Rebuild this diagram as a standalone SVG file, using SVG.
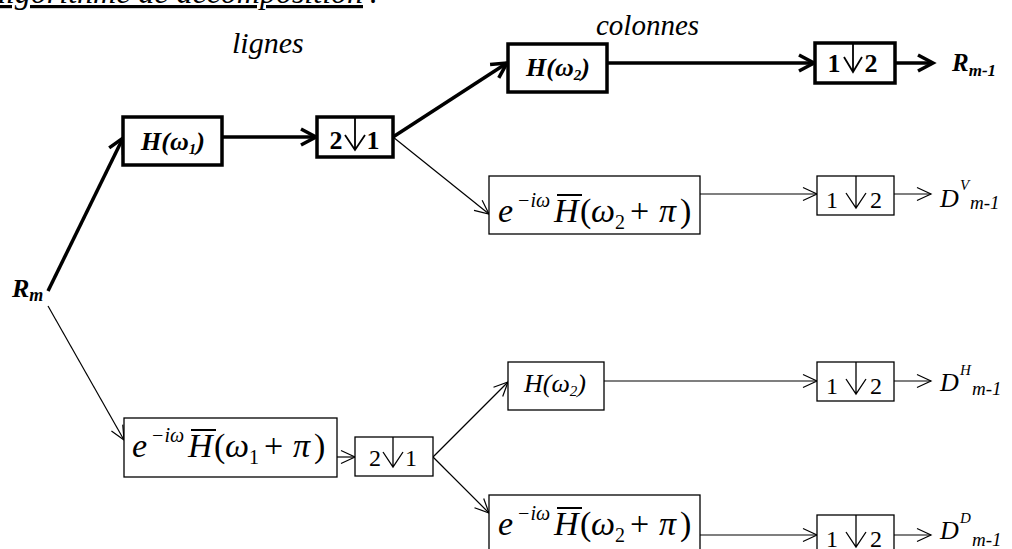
<svg xmlns="http://www.w3.org/2000/svg" width="1012" height="549" viewBox="0 0 1012 549">
<style>
text{font-family:"Liberation Serif","Times New Roman",serif;fill:#000}
.i{font-style:italic}
.bi{font-style:italic;font-weight:bold}
.b{font-weight:bold}
.bx{fill:#fff;stroke:#000;stroke-width:3.5}
.tx{fill:#fff;stroke:#000;stroke-width:1.3}
.cb{fill:none;stroke:#000;stroke-width:3.5;marker-end:url(#ab)}
.ct{fill:none;stroke:#000;stroke-width:1.2;marker-end:url(#at)}
.dn{fill:none;stroke:#000;stroke-width:1.3}
.dnb{fill:none;stroke:#000;stroke-width:1.8}
.ov{stroke:#000;stroke-width:2}
</style>
<defs>
<marker id="ab" markerUnits="userSpaceOnUse" markerWidth="26" markerHeight="26" viewBox="-20 -13 26 26" refX="0" refY="0" orient="auto">
<path d="M-15,-8 L0,0 L-15,8" fill="none" stroke="#000" stroke-width="3.5"/>
</marker>
<marker id="at" markerUnits="userSpaceOnUse" markerWidth="22" markerHeight="22" viewBox="-18 -11 22 22" refX="0" refY="0" orient="auto">
<path d="M-14,-6.5 L0,0 L-14,6.5" fill="none" stroke="#000" stroke-width="1.2"/>
</marker>
</defs>
<rect width="1012" height="549" fill="#fff"/>

<g id="title">
<text class="i" font-size="32" x="-10" y="3" textLength="373" lengthAdjust="spacingAndGlyphs" text-decoration="underline">algorithme de décomposition</text>
<text class="i" font-size="32" x="369" y="3">:</text>
</g>
<g id="label-lignes"><text class="i" font-size="30" x="232" y="53">lignes</text></g>
<g id="label-colonnes"><text class="i" font-size="29" x="596" y="35">colonnes</text></g>

<g id="connectors">
<line class="cb" x1="48" y1="291" x2="123" y2="138"/>
<line class="cb" x1="222" y1="137" x2="316" y2="137"/>
<line class="cb" x1="393" y1="137" x2="507" y2="63"/>
<line class="cb" x1="607" y1="63" x2="814" y2="63"/>
<line class="cb" x1="895" y1="63" x2="933" y2="63"/>
<line class="ct" x1="48" y1="306" x2="124" y2="440"/>
<line class="ct" x1="336" y1="457" x2="355" y2="457"/>
<line class="ct" x1="393" y1="137" x2="489" y2="214"/>
<line class="ct" x1="700" y1="194" x2="817" y2="194"/>
<line class="ct" x1="894" y1="194" x2="931" y2="194"/>
<line class="ct" x1="433" y1="457" x2="508" y2="382"/>
<line class="ct" x1="433" y1="457" x2="489" y2="513"/>
<line class="ct" x1="604" y1="381" x2="817" y2="381"/>
<line class="ct" x1="894" y1="381" x2="931" y2="381"/>
<line class="ct" x1="700" y1="535" x2="817" y2="535"/>
<line class="ct" x1="894" y1="535" x2="931" y2="535"/>
</g>

<g id="Rm">
<text class="bi" font-size="26" x="12" y="297">R<tspan font-size="18" dy="4">m</tspan></text>
</g>

<g id="H1">
<rect class="bx" x="123" y="117" width="99" height="48"/>
<text class="bi" font-size="26" x="141" y="150">H(ω<tspan font-size="15" dy="4">1</tspan><tspan dy="-4">)</tspan></text>
</g>

<g id="down21-bold">
<rect class="bx" x="317" y="117" width="76" height="40"/>
<path class="dnb" d="M355,117 V150 M345,135 L355,150 L365,135"/>
<text class="b" font-size="26" y="149" text-anchor="middle"><tspan x="336">2</tspan><tspan x="373">1</tspan></text>
</g>

<g id="H2-bold">
<rect class="bx" x="508" y="44" width="99" height="48"/>
<text class="bi" font-size="26" x="526" y="76">H(ω<tspan font-size="15" dy="4">2</tspan><tspan dy="-4">)</tspan></text>
</g>

<g id="down12-bold">
<rect class="bx" x="815" y="43" width="80" height="40"/>
<path class="dnb" d="M853,43 V72 M844,57 L853,72 L862,57"/>
<text class="b" font-size="26" y="72" text-anchor="middle"><tspan x="834">1</tspan><tspan x="871">2</tspan></text>
</g>

<g id="Rm1">
<text class="bi" font-size="25" x="952" y="71">R<tspan font-size="17" dy="5">m-1</tspan></text>
</g>

<g id="G2-top">
<rect class="tx" x="489" y="176" width="211" height="58"/>
<line class="ov" x1="557" y1="195" x2="582" y2="195"/>
<text font-size="34" y="222"><tspan class="i" x="498">e</tspan><tspan class="i" x="517" y="207" font-size="20">−iω</tspan><tspan class="i" x="554" y="222">H</tspan><tspan x="580">(</tspan><tspan class="i" x="591">ω</tspan><tspan x="615" y="229" font-size="20">2</tspan><tspan x="630" y="222">+</tspan><tspan class="i" x="659">π</tspan><tspan x="680">)</tspan></text>
</g>

<g id="down12-V">
<rect class="tx" x="817" y="176" width="77" height="39"/>
<path class="dn" d="M856,176 V208 M846,193 L856,208 L866,193"/>
<text font-size="24" y="208" text-anchor="middle"><tspan x="832">1</tspan><tspan x="876">2</tspan></text>
</g>

<g id="DV">
<text class="i" font-size="26" x="940" y="207">D<tspan font-size="15" x="960" y="190">V</tspan><tspan font-size="19" x="970" y="209">m-1</tspan></text>
</g>

<g id="G1">
<rect class="tx" x="124" y="418" width="213" height="59"/>
<line class="ov" x1="191" y1="430" x2="216" y2="430"/>
<text font-size="34" y="457"><tspan class="i" x="132">e</tspan><tspan class="i" x="151" y="442" font-size="20">−iω</tspan><tspan class="i" x="188" y="457">H</tspan><tspan x="214">(</tspan><tspan class="i" x="225">ω</tspan><tspan x="249" y="464" font-size="20">1</tspan><tspan x="264" y="457">+</tspan><tspan class="i" x="293">π</tspan><tspan x="314">)</tspan></text>
</g>

<g id="down21-thin">
<rect class="tx" x="355" y="437" width="78" height="39"/>
<path class="dn" d="M393,437 V467 M383,452 L393,467 L403,452"/>
<text font-size="24" y="466" text-anchor="middle"><tspan x="375">2</tspan><tspan x="411">1</tspan></text>
</g>

<g id="H2-thin">
<rect class="tx" x="508" y="362" width="96" height="48"/>
<text class="i" font-size="26" x="524" y="392">H(ω<tspan font-size="15" dy="4">2</tspan><tspan dy="-4">)</tspan></text>
</g>

<g id="down12-H">
<rect class="tx" x="817" y="362" width="77" height="39"/>
<path class="dn" d="M856,362 V394 M846,379 L856,394 L866,379"/>
<text font-size="24" y="394" text-anchor="middle"><tspan x="832">1</tspan><tspan x="876">2</tspan></text>
</g>

<g id="DH">
<text class="i" font-size="26" x="940" y="391">D<tspan font-size="15" x="960" y="375">H</tspan><tspan font-size="19" x="972" y="395">m-1</tspan></text>
</g>

<g id="G2-bottom">
<rect class="tx" x="489" y="495" width="211" height="60"/>
<line class="ov" x1="557" y1="508" x2="582" y2="508"/>
<text font-size="34" y="535"><tspan class="i" x="498">e</tspan><tspan class="i" x="517" y="520" font-size="20">−iω</tspan><tspan class="i" x="554" y="535">H</tspan><tspan x="580">(</tspan><tspan class="i" x="591">ω</tspan><tspan x="615" y="542" font-size="20">2</tspan><tspan x="630" y="535">+</tspan><tspan class="i" x="659">π</tspan><tspan x="680">)</tspan></text>
</g>

<g id="down12-D">
<rect class="tx" x="817" y="515" width="77" height="40"/>
<path class="dn" d="M856,515 V547 M846,532 L856,547 L866,532"/>
<text font-size="24" y="547" text-anchor="middle"><tspan x="832">1</tspan><tspan x="876">2</tspan></text>
</g>

<g id="DD">
<text class="i" font-size="26" x="940" y="539">D<tspan font-size="15" x="960" y="523">D</tspan><tspan font-size="19" x="972" y="546">m-1</tspan></text>
</g>
</svg>
